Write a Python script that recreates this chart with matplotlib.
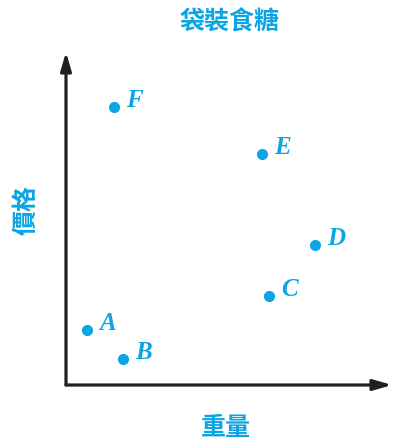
import matplotlib.pyplot as plt

labels = ["A", "B", "C", "D", "E", "F"]
weight = [21, 57, 203, 249, 196, 48]
price = [55, 26, 89, 140, 231, 278]

cyan = "#0aa5e2"
ink = "#231f20"

fig = plt.figure(figsize=(3.94, 4.42), dpi=100)
W, H = 394, 442
ax = fig.add_axes([66 / W, (H - 385) / H, (392 - 66) / W, (385 - 52) / H])
ax.set_xlim(0, 326)
ax.set_ylim(0, 333)
ax.axis("off")

# axis arrows
style = "-|>,head_length=1.1,head_width=0.32"
ax.annotate("", xy=(326, 0), xytext=(0, 0),
            arrowprops=dict(arrowstyle=style, lw=2.3, color=ink, shrinkA=0, shrinkB=0),
            annotation_clip=False)
ax.annotate("", xy=(0, 333), xytext=(0, 0),
            arrowprops=dict(arrowstyle=style, lw=2.3, color=ink, shrinkA=0, shrinkB=0),
            annotation_clip=False)

ax.plot(weight, price, "o", color=cyan, ms=7, clip_on=False)
for x, y, t in zip(weight, price, labels):
    ax.annotate(t, (x, y), xytext=(9, 5), textcoords="offset points",
                color=cyan, fontsize=18, fontweight="bold", fontstyle="italic",
                family="Liberation Serif", va="center", ha="left")

cjk = ["Noto Sans CJK TC", "DejaVu Sans"]
fig.text(230 / W, 1 - 22 / H, "袋裝食糖", ha="center", va="center",
         fontsize=18, fontweight="bold", color=cyan, family=cjk)
fig.text(226 / W, 1 - 428 / H, "重量", ha="center", va="center",
         fontsize=18, fontweight="bold", color=cyan, family=cjk)
fig.text(27 / W, 1 - 210 / H, "價格", ha="center", va="center", rotation=90,
         fontsize=18, fontweight="bold", color=cyan, family=cjk)

fig.savefig("out.png", dpi=100)
